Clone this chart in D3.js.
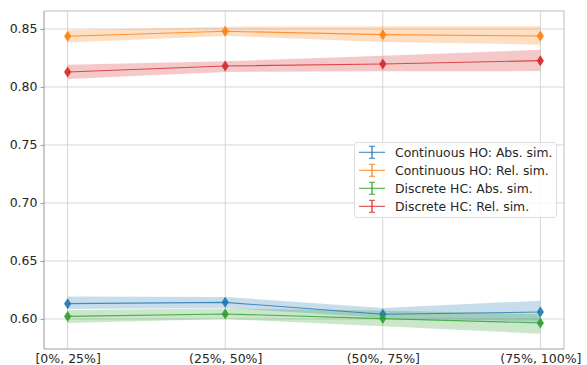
<!DOCTYPE html>
<html><head><meta charset="utf-8">
<script src="https://cdn.jsdelivr.net/npm/d3@7"></script>
<style>body{margin:0;background:#fff}svg{display:block}text{font-family:"DejaVu Sans",sans-serif;fill:#262626}</style>
</head><body><svg id="c" width="587" height="365"></svg>
<script>
const categories = ["[0%, 25%]", "(25%, 50%]", "(50%, 75%]", "(75%, 100%]"];
const seriesNames = ["Continuous HO: Abs. sim.", "Continuous HO: Rel. sim.", "Discrete HC: Abs. sim.", "Discrete HC: Rel. sim."];
const colors = ["#1f77b4", "#ff7f0e", "#2ca02c", "#d62728"];
const contAbsMean = [0.6132, 0.6143, 0.6040, 0.6060];
const contAbsLow  = [0.6085, 0.6095, 0.6010, 0.5975];
const contAbsHigh = [0.6193, 0.6190, 0.6095, 0.6158];
const contRelMean = [0.8437, 0.8480, 0.8451, 0.8440];
const contRelLow  = [0.8383, 0.8440, 0.8388, 0.8365];
const contRelHigh = [0.8490, 0.8520, 0.8523, 0.8523];
const discAbsMean = [0.6022, 0.6043, 0.6003, 0.5966];
const discAbsLow  = [0.5966, 0.6000, 0.5937, 0.5873];
const discAbsHigh = [0.6078, 0.6090, 0.6072, 0.6040];
const discRelMean = [0.8129, 0.8181, 0.8198, 0.8227];
const discRelLow  = [0.8068, 0.8130, 0.8135, 0.8137];
const discRelHigh = [0.8192, 0.8222, 0.8270, 0.8320];
const yTicks = [0.60, 0.65, 0.70, 0.75, 0.80, 0.85];

const series = [
  {mean: contAbsMean, low: contAbsLow, high: contAbsHigh},
  {mean: contRelMean, low: contRelLow, high: contRelHigh},
  {mean: discAbsMean, low: discAbsLow, high: discAbsHigh},
  {mean: discRelMean, low: discRelLow, high: discRelHigh}
];

const L = 44, R = 564, T = 11, B = 349;
const svg = d3.select("#c");
const x = d3.scaleLinear().domain([-0.15, 3.15]).range([L, R]);
const y = d3.scaleLinear().domain([0.5741, 0.8655]).range([B, T]);

// grid
const g = svg.append("g");
g.selectAll(".gy").data(yTicks).join("line")
  .attr("x1", L).attr("x2", R).attr("y1", d => y(d)).attr("y2", d => y(d))
  .attr("stroke", "#d0d0d0").attr("stroke-width", 0.9);
g.selectAll(".gx").data(categories).join("line")
  .attr("x1", (d, i) => x(i)).attr("x2", (d, i) => x(i)).attr("y1", T).attr("y2", B)
  .attr("stroke", "#d0d0d0").attr("stroke-width", 0.9);

// bands, lines, markers
const area = d3.area().x((d, i) => x(i)).y0(d => y(d[0])).y1(d => y(d[1]));
const line = d3.line().x((d, i) => x(i)).y(d => y(d));
series.forEach((s, k) => {
  svg.append("path").datum(s.low.map((v, i) => [v, s.high[i]]))
    .attr("d", area).attr("fill", colors[k]).attr("fill-opacity", 0.25);
});
series.forEach((s, k) => {
  svg.append("path").datum(s.mean).attr("d", line)
    .attr("fill", "none").attr("stroke", colors[k]).attr("stroke-width", 1.1).attr("stroke-opacity", 0.8);
  svg.append("g").selectAll("path").data(s.mean).join("path")
    .attr("transform", (d, i) => `translate(${x(i)},${y(d)})`)
    .attr("d", "M0,-5.5L3.6,0L0,5.5L-3.6,0Z")
    .attr("fill", colors[k]).attr("fill-opacity", 0.9);
});

// spines
svg.append("line").attr("x1", L).attr("x2", L).attr("y1", T).attr("y2", B).attr("stroke", "#a0a0a0").attr("stroke-width", 1.1);
svg.append("line").attr("x1", L).attr("x2", R).attr("y1", B).attr("y2", B).attr("stroke", "#a0a0a0").attr("stroke-width", 1.1);
svg.append("line").attr("x1", L).attr("x2", R).attr("y1", T).attr("y2", T).attr("stroke", "#bcbcbc").attr("stroke-width", 1);
svg.append("line").attr("x1", R).attr("x2", R).attr("y1", T).attr("y2", B).attr("stroke", "#bcbcbc").attr("stroke-width", 1);

// axes
const yAxis = d3.axisLeft(y).tickValues(yTicks).tickFormat(d3.format(".2f")).tickSize(3.5).tickPadding(3);
const ya = svg.append("g").attr("transform", `translate(${L},0)`).call(yAxis);
ya.select(".domain").remove();
ya.selectAll("line").attr("stroke", "#a0a0a0");
ya.selectAll("text").attr("font-size", 12.5).attr("fill", "#262626").attr("font-family", "DejaVu Sans");

const xb = d3.scalePoint().domain(categories).range([x(0), x(3)]);
const xAxis = d3.axisBottom(xb).tickSize(0).tickPadding(5);
const xa = svg.append("g").attr("transform", `translate(0,${B})`).call(xAxis);
xa.select(".domain").remove();
xa.selectAll("text").attr("font-size", 12.5).attr("fill", "#262626").attr("font-family", "DejaVu Sans");

// legend
const lg = svg.append("g");
lg.append("rect").attr("x", 354.5).attr("y", 142.5).attr("width", 202).attr("height", 75).attr("rx", 3)
  .attr("fill", "#fff").attr("fill-opacity", 0.8).attr("stroke", "#dcdcdc");
seriesNames.forEach((n, k) => {
  const cy = 152.3 + k * 18;
  const h = lg.append("g").attr("stroke", colors[k]).attr("stroke-width", 1.1).attr("stroke-opacity", 0.85);
  h.append("line").attr("x1", 359).attr("x2", 385).attr("y1", cy).attr("y2", cy);
  h.append("line").attr("x1", 372).attr("x2", 372).attr("y1", cy - 6).attr("y2", cy + 6).attr("stroke-width", 1.4);
  h.append("line").attr("x1", 369).attr("x2", 375).attr("y1", cy - 6).attr("y2", cy - 6);
  h.append("line").attr("x1", 369).attr("x2", 375).attr("y1", cy + 6).attr("y2", cy + 6);
  lg.append("text").attr("x", 395).attr("y", cy).attr("dy", "0.35em").attr("font-size", 12.4).text(n);
});
</script></body></html>
